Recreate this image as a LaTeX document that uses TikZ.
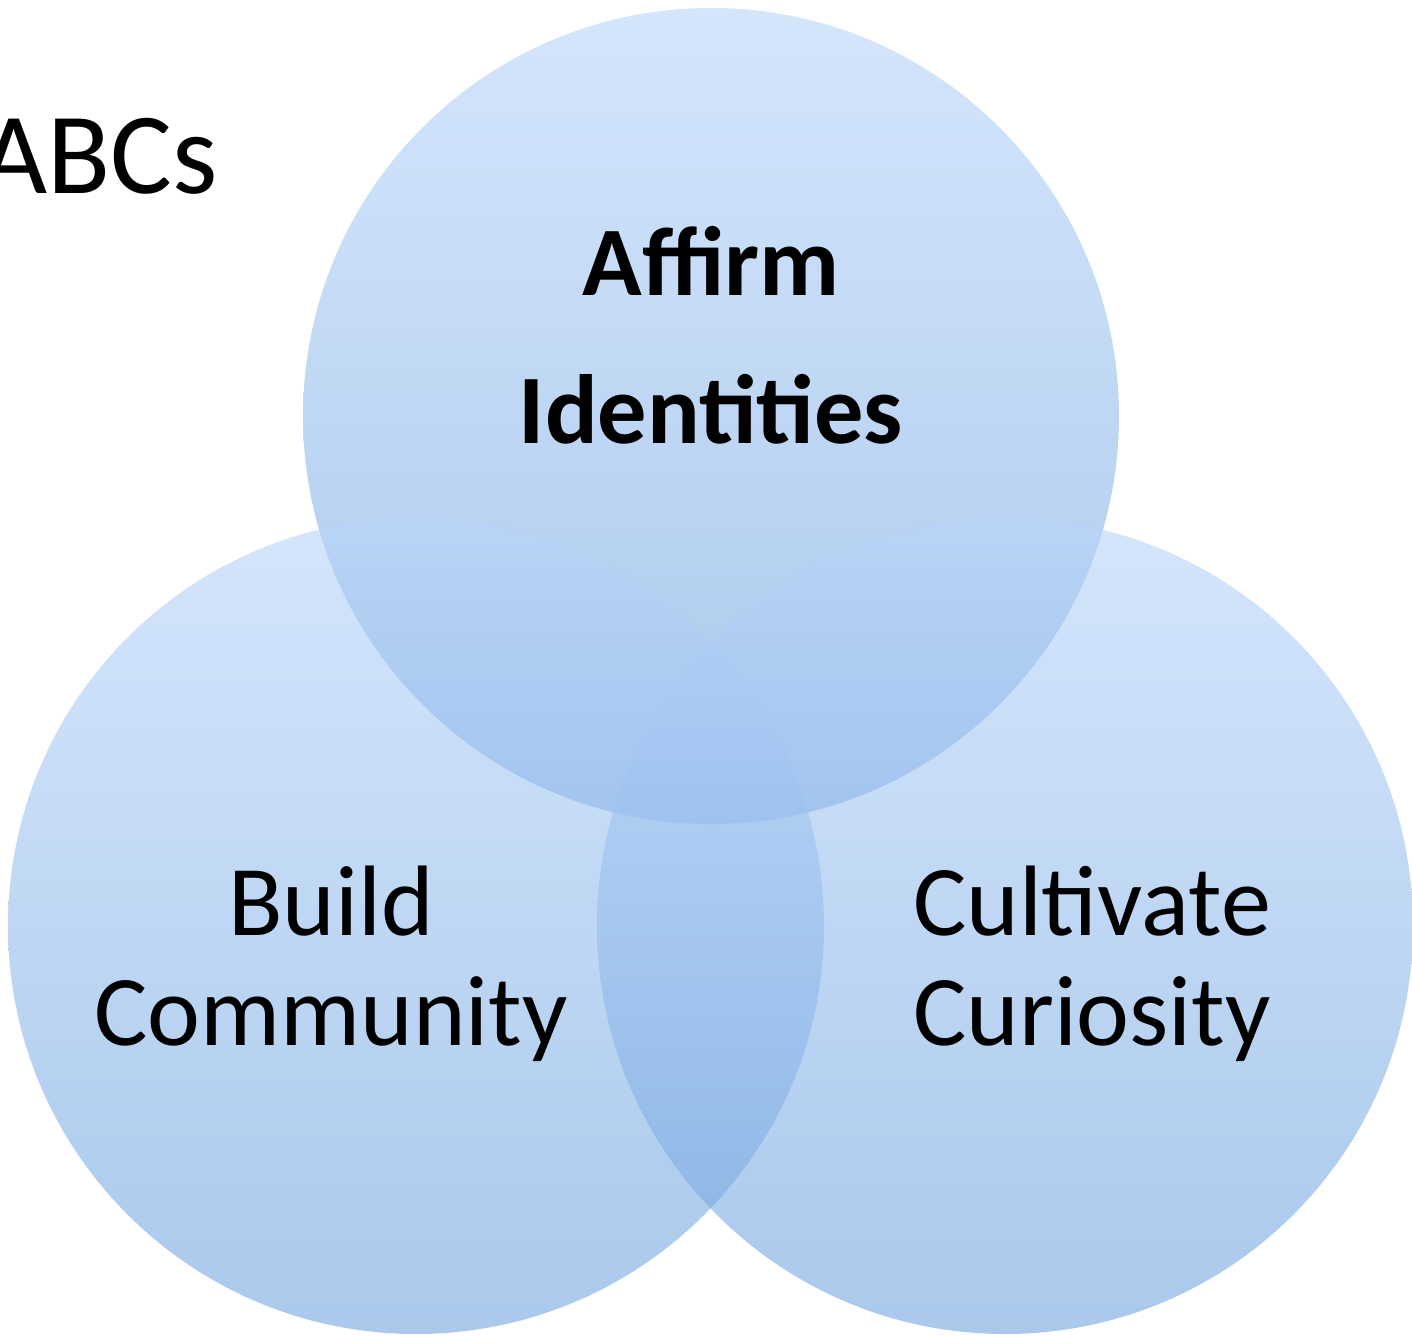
\documentclass[tikz,border=0pt]{standalone}
\usepackage{fontspec}
\setmainfont{Carlito}
\usetikzlibrary{calc}
\definecolor{ringtop}{RGB}{184,212,250}
\definecolor{ringbottom}{RGB}{112,164,222}

\begin{document}
\begin{tikzpicture}[x=0.02cm, y=-0.02cm,
	ring/.style={top color=ringtop, bottom color=ringbottom, fill opacity=0.6},
	Wort/.style={anchor=base, inner sep=0pt, font=\fontsize{57}{60}\selectfont},
	Fett/.style={Wort, font=\fontsize{56}{60}\selectfont\bfseries}]
				\useasboundingbox (0,0) rectangle (1412,1335);
				\coordinate (mA) at (711,416);
				\coordinate (mB) at (416,926);
				\coordinate (mC) at (1005,926);
				\shade[ring] (mA) circle [radius=408];
				\shade[ring] (mB) circle [radius=408];
				\shade[ring] (mC) circle [radius=408];
				\node[anchor=base east, inner sep=0pt, font=\fontsize{66}{70}\selectfont] (abc) at (218,193) {ABCs};
				\node[Fett] (affirm) at ($(mA) + (0,-121)$) {Affirm};
				\node[Fett] (ident) at ($(mA) + (0,27)$) {Identities};
				\node[Wort] (build) at ($(mB) + (-85,9)$) {Build};
				\node[Wort] (comm) at ($(mB) + (-85,119)$) {Community};
				\node[Wort] (cult) at ($(mC) + (87,9)$) {Cultivate};
				\node[Wort] (curio) at ($(mC) + (87,119)$) {Curiosity};
			\end{tikzpicture}
\end{document}
